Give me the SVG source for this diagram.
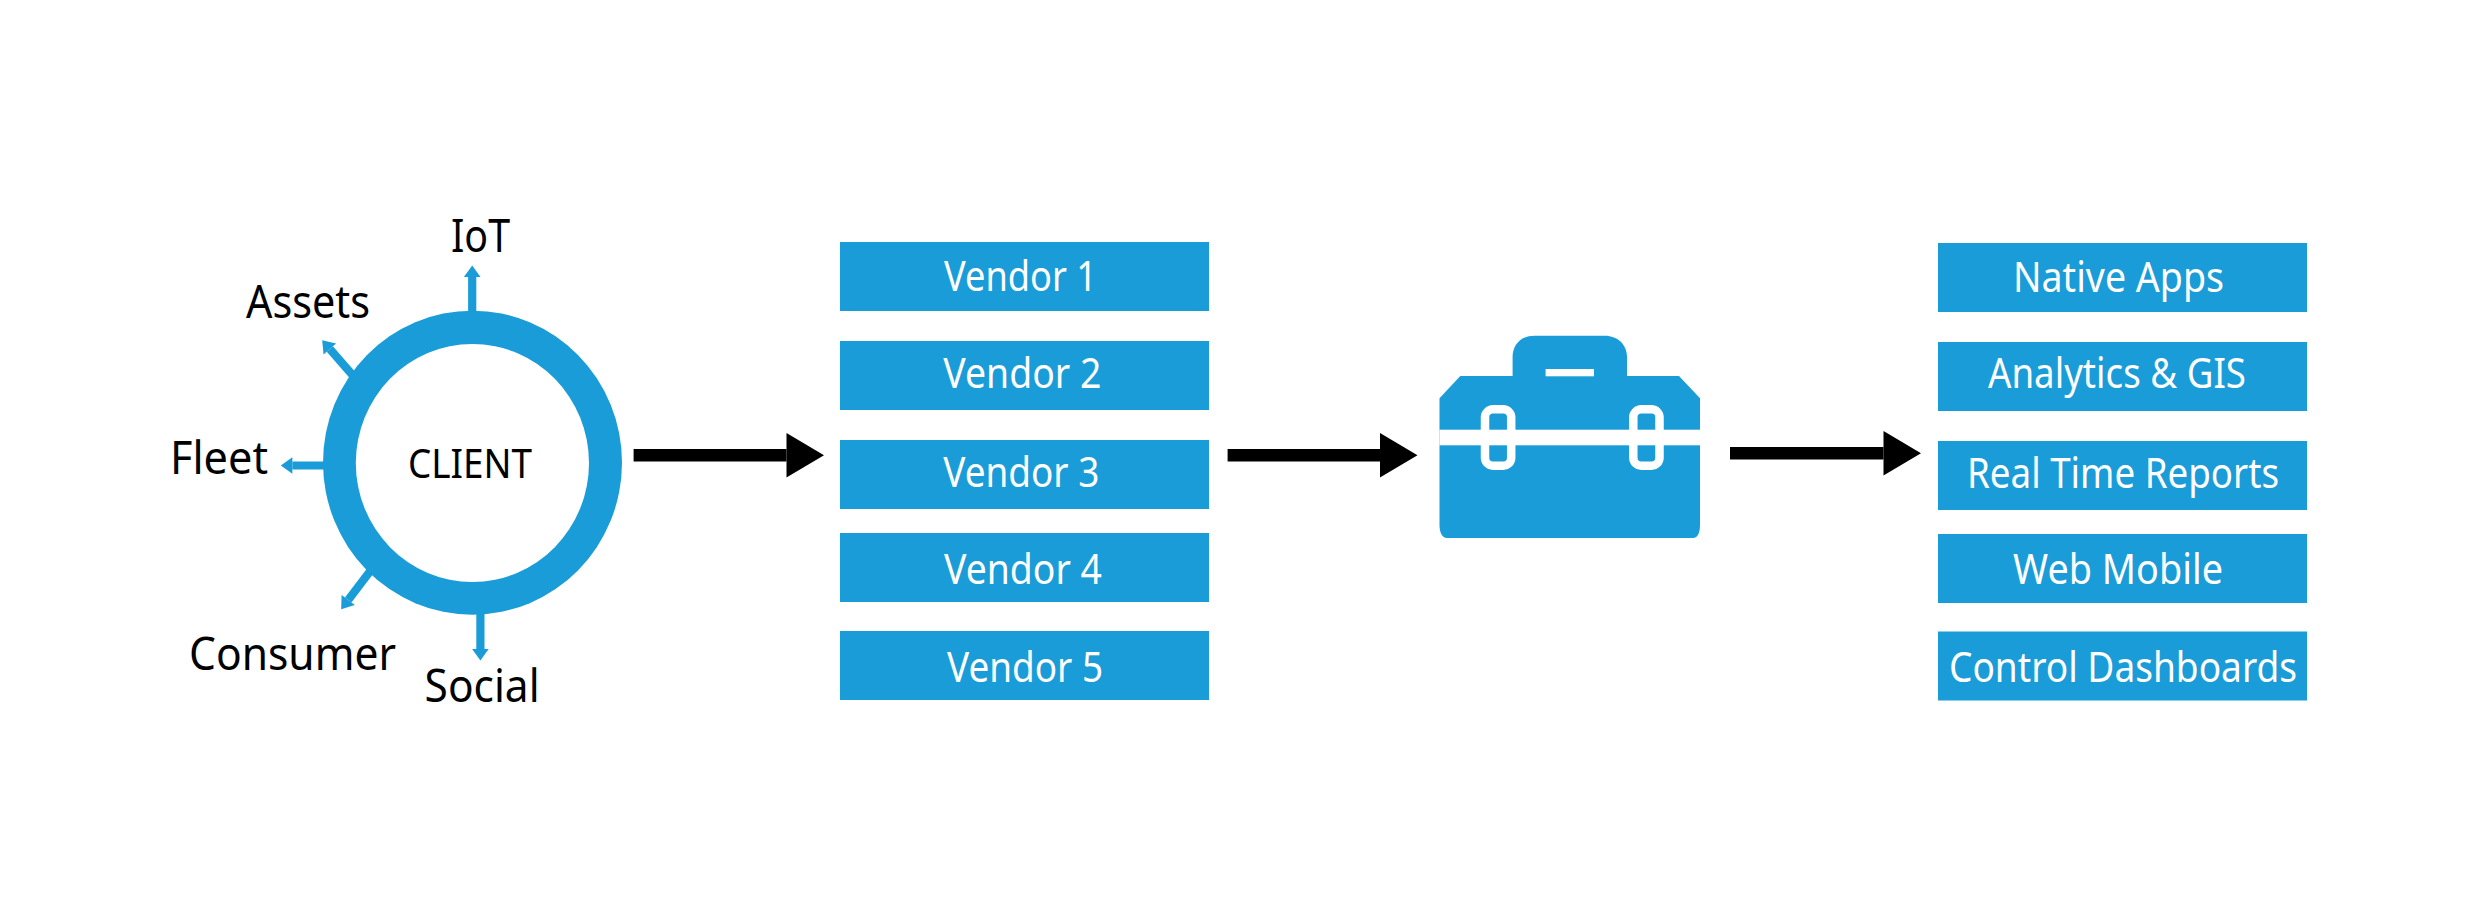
<svg xmlns="http://www.w3.org/2000/svg" width="2480" height="913" viewBox="0 0 2480 913">
<style>
.box{fill:#199cd8}
.w{fill:#fff;font-family:"Noto Sans","Open Sans",sans-serif;font-size:42px}
.k{fill:#000;font-family:"Noto Sans","Open Sans",sans-serif;font-size:46px}
.big{stroke:#000;stroke-width:12.6;fill:none}
.small{stroke:#199cd8;stroke-width:8.2;fill:none}
</style>
<defs>
<marker id="bigHead" markerUnits="userSpaceOnUse" markerWidth="40" markerHeight="46" refX="0" refY="22.2" orient="auto" overflow="visible"><path d="M0,0L37.5,22.2L0,44.4Z" fill="#000"/></marker>
<marker id="smallHead" markerUnits="userSpaceOnUse" markerWidth="14" markerHeight="18" refX="0" refY="8.3" orient="auto" overflow="visible"><path d="M0,0L11.6,8.3L0,16.6Z" fill="#199cd8"/></marker>
</defs>
<rect width="2480" height="913" fill="#fff"/>
<g id="connectors">
<line class="big" x1="633.6" y1="455.3" x2="786.5" y2="455.3" marker-end="url(#bigHead)"/>
<line class="big" x1="1227.6" y1="455.3" x2="1380" y2="455.3" marker-end="url(#bigHead)"/>
<line class="big" x1="1730" y1="453.3" x2="1883.5" y2="453.3" marker-end="url(#bigHead)"/>
<line class="small" x1="472.2" y1="315" x2="472.2" y2="277" marker-end="url(#smallHead)"/>
<line class="small" x1="356" y1="379" x2="329.8" y2="349" marker-end="url(#smallHead)"/>
<line class="small" x1="328" y1="465.5" x2="292.4" y2="465.5" marker-end="url(#smallHead)"/>
<line class="small" x1="371" y1="570" x2="348.2" y2="600" marker-end="url(#smallHead)"/>
<line class="small" x1="480.4" y1="610" x2="480.4" y2="649" marker-end="url(#smallHead)"/>
</g>
<g id="client">
<ellipse class="box" cx="472.5" cy="462.7" rx="149.5" ry="152"/>
<ellipse cx="472.4" cy="463" rx="116.6" ry="119" fill="#fff"/>
<text class="k" style="font-size:40px" x="408" y="477.5" textLength="124" lengthAdjust="spacingAndGlyphs">CLIENT</text>
</g>
<g id="label-iot"><text class="k" x="451" y="251.5" textLength="59" lengthAdjust="spacingAndGlyphs">IoT</text></g>
<g id="label-assets"><text class="k" x="246" y="317.5" textLength="124" lengthAdjust="spacingAndGlyphs">Assets</text></g>
<g id="label-fleet"><text class="k" x="170" y="474" textLength="98" lengthAdjust="spacingAndGlyphs">Fleet</text></g>
<g id="label-consumer"><text class="k" x="189" y="670" textLength="207" lengthAdjust="spacingAndGlyphs">Consumer</text></g>
<g id="label-social"><text class="k" x="424.6" y="702" textLength="115" lengthAdjust="spacingAndGlyphs">Social</text></g>
<g id="vendor-1"><rect class="box" x="840" y="242" width="369" height="69"/><text class="w" x="944" y="291" textLength="153" lengthAdjust="spacingAndGlyphs">Vendor 1</text></g>
<g id="vendor-2"><rect class="box" x="840" y="341" width="369" height="69"/><text class="w" x="943.3" y="388" textLength="158" lengthAdjust="spacingAndGlyphs">Vendor 2</text></g>
<g id="vendor-3"><rect class="box" x="840" y="440" width="369" height="69"/><text class="w" x="943.3" y="487" textLength="156" lengthAdjust="spacingAndGlyphs">Vendor 3</text></g>
<g id="vendor-4"><rect class="box" x="840" y="533" width="369" height="69"/><text class="w" x="944" y="583.5" textLength="158" lengthAdjust="spacingAndGlyphs">Vendor 4</text></g>
<g id="vendor-5"><rect class="box" x="840" y="631" width="369" height="69"/><text class="w" x="947" y="682" textLength="156" lengthAdjust="spacingAndGlyphs">Vendor 5</text></g>
<g id="toolbox">
<path class="box" d="M1512.6,376V356.7C1512.6,345 1521,335.7 1534.5,335.7H1604.7C1618,335.7 1627,345 1627,356.7V376H1679L1700,398.3V525C1700,532 1698,538 1693,538H1447C1442,538 1439.5,532 1439.5,525V398.3L1460.3,376Z"/>
<rect x="1545.6" y="369" width="48.4" height="7.3" fill="#fff"/>
<rect x="1439.5" y="429.7" width="260.5" height="15.6" fill="#fff"/>
<rect x="1485" y="409.3" width="26.2" height="56.4" rx="8" fill="none" stroke="#fff" stroke-width="8.5"/>
<rect x="1633.3" y="409.3" width="26.2" height="56.4" rx="8" fill="none" stroke="#fff" stroke-width="8.5"/>
</g>
<g id="output-1"><rect class="box" x="1938" y="243" width="369" height="69"/><text class="w" x="2013" y="292" textLength="211" lengthAdjust="spacingAndGlyphs">Native Apps</text></g>
<g id="output-2"><rect class="box" x="1938" y="342" width="369" height="69"/><text class="w" x="1988" y="388" textLength="258" lengthAdjust="spacingAndGlyphs">Analytics &amp; GIS</text></g>
<g id="output-3"><rect class="box" x="1938" y="441" width="369" height="69"/><text class="w" x="1967" y="487.5" textLength="312" lengthAdjust="spacingAndGlyphs">Real Time Reports</text></g>
<g id="output-4"><rect class="box" x="1938" y="534" width="369" height="69"/><text class="w" x="2013" y="583.5" textLength="210" lengthAdjust="spacingAndGlyphs">Web Mobile</text></g>
<g id="output-5"><rect class="box" x="1938" y="631.5" width="369" height="69"/><text class="w" x="1949" y="682" textLength="348" lengthAdjust="spacingAndGlyphs">Control Dashboards</text></g>
</svg>
